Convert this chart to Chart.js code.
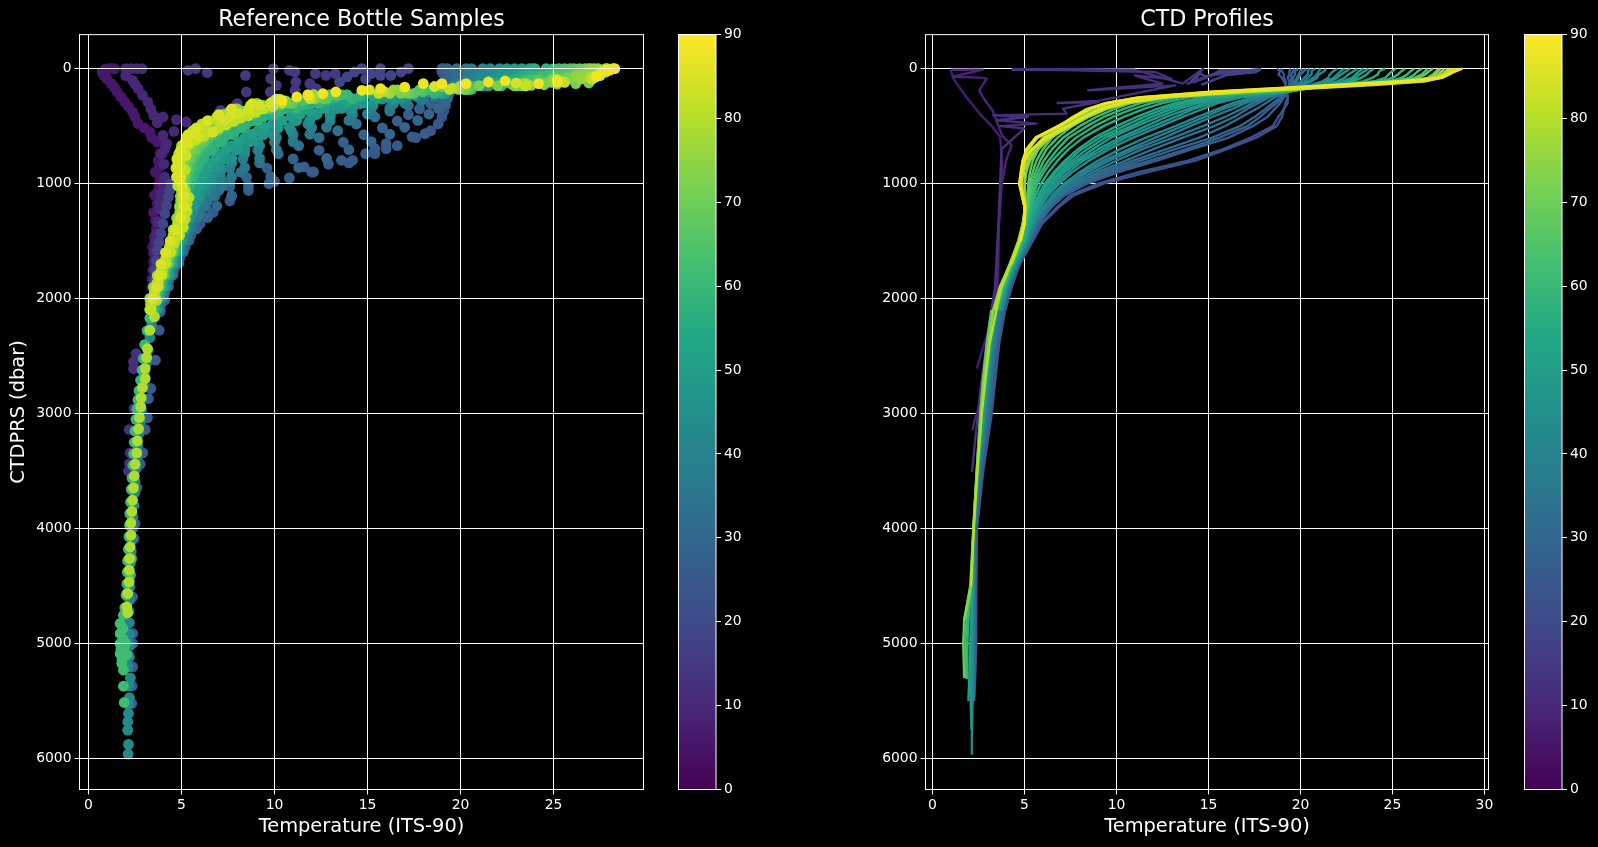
<!DOCTYPE html>
<html>
<head>
<meta charset="utf-8">
<title>Bottle and CTD temperature profiles</title>
<script src="https://cdn.jsdelivr.net/npm/chart.js@4/dist/chart.umd.min.js"></script>
<style>
	html, body { margin: 0; background: #000; width: 1598px; height: 847px; overflow: hidden; }
	canvas { position: absolute; top: 0; }
</style>
</head>
<body>
<canvas id="bottle-chart" width="723" height="847" style="left:0"></canvas>
<canvas id="ctd-chart" width="714" height="847" style="left:850px"></canvas>
<canvas id="bottle-bar" width="90" height="847" style="left:669px"></canvas>
<canvas id="ctd-bar" width="82" height="847" style="left:1515px"></canvas>
<script>
// axis ticks
var bottleTempTicks = [0, 5, 10, 15, 20, 25];
var ctdTempTicks = [0, 5, 10, 15, 20, 25, 30];
var pressureTicks = [0, 1000, 2000, 3000, 4000, 5000, 6000];
var latitudeTicks = [0, 10, 20, 30, 40, 50, 60, 70, 80, 90];

// colour scale stops, 0 to 90
var viridisStops = ["#440154", "#482475", "#414487", "#355f8d", "#2a788e", "#21918c", "#22a884", "#44bf70", "#7ad151", "#bddf26", "#fde725"];

/* ---- bottle samples: three sets of sampling depths ---- */
var levelsA = [0, 25, 50, 80, 110, 140, 170, 200, 240, 280, 320, 370, 420, 480, 540, 600, 670, 740, 820, 900, 980, 1060, 1150, 1250, 1350, 1450, 1550, 1650, 1750, 1850, 1950, 2050];
var levelsB = [0, 15, 40, 65, 95, 125, 155, 185, 225, 265, 305, 350, 400, 455, 515, 575, 640, 710, 785, 865, 945, 1025, 1110, 1200, 1300, 1400, 1500, 1600, 1700, 1800, 1900, 2000];
var levelsC = [0, 30, 60, 90, 120, 150, 180, 215, 260, 300, 345, 395, 450, 510, 570, 635, 705, 780, 860, 940, 1020, 1105, 1195, 1295, 1395, 1495, 1595, 1695, 1795, 1895, 1995, 2095];

var bottle01 = [19.0,19.0,19.1,19.2,19.2,19.3,19.3,19.3,19.3,19.2,19.2,19.1,19.0,18.8,18.4,17.6,16.6,15.4,14.0,12.0,10.0,8.6,7.6,6.7,6.0,5.5,5.2,4.9,4.6,4.3,4.1,3.9];
var bottle02 = [19.1,19.2,19.2,19.3,19.4,19.4,19.4,19.3,19.1,18.9,18.4,17.8,17.2,16.6,15.8,14.8,13.7,12.4,11.0,9.6,8.5,7.6,6.8,6.3,5.8,5.4,5.1,4.8,4.5,4.25,4.05,3.85];
var bottle03 = [19.3,19.4,19.4,19.4,19.4,19.5,19.4,19.4,19.3,19.1,18.8,18.3,17.7,17.0,16.2,15.2,14.0,12.8,11.3,9.8,8.6,7.7,6.9,6.4,5.8,5.4,5.1,4.85,4.55,4.3,4.05,3.85];
var bottle04 = [19.8,19.9,19.9,19.8,19.8,19.7,19.5,19.2,18.6,17.9,17.2,16.2,15.4,14.4,13.4,12.4,11.3,10.2,9.2,8.2,7.6,7.0,6.4,6.0,5.6,5.3,5.0,4.8,4.5,4.25,4.0,3.8];
var bottle05 = [20.3,20.3,20.2,20.2,20.0,19.8,19.5,19.0,18.0,17.0,16.2,15.0,14.0,12.8,11.9,11.0,10.1,9.2,8.4,7.7,7.2,6.7,6.2,5.85,5.5,5.2,4.95,4.7,4.45,4.2,4.0,3.75];
var bottle06 = [20.6,20.6,20.5,20.5,20.3,20.1,19.6,19.0,18.1,17.1,16.4,15.2,14.2,13.0,12.0,11.0,10.0,9.1,8.3,7.6,7.1,6.6,6.1,5.8,5.45,5.2,4.95,4.7,4.45,4.2,4.0,3.75];
var bottle07 = [21.2,21.1,21.2,21.0,20.8,20.4,19.9,19.2,17.6,16.3,15.3,14.1,13.0,11.8,10.9,10.1,9.2,8.4,7.7,7.1,6.7,6.3,5.9,5.6,5.35,5.1,4.9,4.65,4.4,4.15,3.95,3.7];
var bottle08 = [21.6,21.6,21.5,21.4,21.2,20.7,20.0,19.1,17.2,15.8,14.6,13.3,12.2,11.1,10.2,9.4,8.6,7.9,7.3,6.8,6.4,6.1,5.8,5.5,5.3,5.05,4.85,4.6,4.35,4.1,3.9,3.7];
var bottle09 = [22.1,22.1,22.0,21.8,21.5,20.9,20.2,19.2,16.8,15.3,14.2,13.0,11.9,10.8,9.9,9.1,8.4,7.7,7.1,6.6,6.3,6.0,5.7,5.5,5.25,5.0,4.85,4.6,4.35,4.1,3.9,3.7];
var bottle10 = [22.5,22.4,22.4,22.2,21.8,21.2,20.3,19.1,16.4,14.8,13.6,12.3,11.2,10.2,9.4,8.7,8.0,7.3,6.8,6.4,6.1,5.85,5.6,5.4,5.2,5.0,4.8,4.55,4.3,4.05,3.85,3.65];
var bottle11 = [22.9,22.9,22.8,22.5,22.0,21.3,20.4,19.1,16.0,14.4,13.2,11.9,10.9,9.9,9.1,8.4,7.7,7.1,6.6,6.2,6.0,5.75,5.5,5.35,5.15,4.95,4.8,4.55,4.3,4.05,3.85,3.65];
var bottle12 = [23.3,23.2,23.2,22.9,22.3,21.5,20.5,19.0,15.5,13.9,12.7,11.4,10.4,9.5,8.8,8.1,7.4,6.85,6.4,6.05,5.85,5.65,5.4,5.3,5.1,4.9,4.75,4.5,4.25,4.0,3.8,3.6];
var bottle13 = [23.7,23.6,23.5,23.2,22.6,21.7,20.6,19.0,15.2,13.5,12.3,11.0,10.0,9.1,8.4,7.8,7.2,6.6,6.2,5.9,5.7,5.5,5.3,5.2,5.05,4.9,4.75,4.5,4.25,4.0,3.8,3.6];
var bottle14 = [23.9,23.8,23.7,23.4,22.9,21.9,20.6,18.9,14.9,13.1,11.9,10.6,9.7,8.8,8.1,7.5,7.0,6.45,6.05,5.8,5.6,5.4,5.25,5.15,5.0,4.85,4.7,4.45,4.2,3.95,3.75,3.55];
var bottle15 = [24.0,24.0,23.9,23.6,23.1,22.1,20.6,18.8,14.6,12.8,11.6,10.3,9.4,8.5,7.9,7.3,6.8,6.3,5.95,5.7,5.5,5.35,5.2,5.1,5.0,4.85,4.7,4.45,4.2,3.95,3.75,3.55];
var bottle16 = [24.6,24.5,24.3,24.0,23.3,22.2,20.6,18.6,14.2,12.4,11.2,10.0,9.1,8.2,7.6,7.1,6.6,6.15,5.8,5.6,5.4,5.3,5.15,5.05,4.95,4.8,4.65,4.4,4.15,3.9,3.7,3.5];
var bottle17 = [25.0,25.0,24.8,24.3,23.5,22.4,20.6,18.4,13.9,12.1,10.9,9.7,8.9,8.0,7.4,6.9,6.4,6.0,5.7,5.55,5.35,5.25,5.1,5.05,4.95,4.8,4.65,4.4,4.15,3.9,3.7,3.5];
var bottle18 = [25.3,25.3,25.1,24.6,23.8,22.6,20.5,18.2,13.6,11.8,10.6,9.4,8.6,7.7,7.2,6.7,6.2,5.85,5.6,5.45,5.3,5.2,5.1,5.0,4.9,4.75,4.6,4.35,4.1,3.85,3.65,3.45];
var bottle19 = [25.6,25.6,25.4,24.9,24.0,22.8,20.5,18.0,13.3,11.5,10.3,9.1,8.3,7.5,7.0,6.5,6.05,5.75,5.5,5.35,5.25,5.15,5.05,5.0,4.9,4.75,4.6,4.35,4.1,3.85,3.65,3.45];
var bottle20 = [25.9,25.8,25.6,25.1,24.2,22.9,20.4,17.8,13.0,11.2,10.0,8.9,8.1,7.3,6.8,6.3,5.9,5.6,5.4,5.25,5.15,5.1,5.0,4.95,4.85,4.7,4.55,4.3,4.05,3.8,3.6,3.4];
var bottle21 = [26.1,26.1,25.9,25.3,24.4,23.0,20.4,17.5,12.8,11.0,9.8,8.7,7.9,7.1,6.6,6.2,5.8,5.5,5.3,5.2,5.1,5.05,5.0,4.95,4.85,4.7,4.55,4.3,4.05,3.8,3.6,3.4];
var bottle22 = [26.4,26.3,26.1,25.5,24.6,23.1,20.3,17.2,12.6,10.8,9.6,8.5,7.7,7.0,6.4,6.0,5.65,5.4,5.2,5.15,5.05,5.0,4.95,4.9,4.8,4.65,4.5,4.25,4.0,3.75,3.55,3.35];
var bottle23 = [26.7,26.6,26.4,25.8,24.8,23.3,20.3,17.0,12.4,10.6,9.4,8.3,7.6,6.8,6.3,5.9,5.55,5.3,5.15,5.1,5.05,5.0,4.95,4.9,4.8,4.65,4.5,4.25,4.0,3.75,3.55,3.35];
var bottle24 = [26.9,26.8,26.6,26.0,24.9,23.3,20.2,16.8,12.2,10.4,9.2,8.1,7.4,6.6,6.1,5.7,5.4,5.2,5.05,5.05,5.0,5.0,4.95,4.9,4.75,4.6,4.45,4.2,3.95,3.7,3.5,3.3];
var bottle25 = [27.0,27.0,26.7,26.2,25.0,23.4,20.1,16.6,12.1,10.3,9.1,8.0,7.3,6.5,6.0,5.6,5.3,5.1,5.0,5.0,5.0,5.0,4.95,4.9,4.75,4.6,4.45,4.2,3.95,3.7,3.5,3.3];
var bottle26 = [27.2,27.1,26.9,26.3,25.1,23.5,20.0,16.4,12.1,10.2,9.0,7.9,7.2,6.4,5.9,5.5,5.2,5.05,4.95,4.95,4.95,5.0,4.95,4.9,4.75,4.55,4.4,4.15,3.9,3.7,3.5,3.3];
var bottle27 = [27.4,27.4,27.1,26.5,25.2,23.5,19.9,16.2,12.0,10.1,8.9,7.8,7.1,6.3,5.8,5.4,5.15,5.0,4.9,4.9,4.95,5.0,5.0,4.95,4.8,4.55,4.4,4.15,3.9,3.7,3.5,3.3];
var bottle28 = [27.8,27.7,27.4,27.0,25.5,23.6,19.6,15.9,11.9,10.0,8.7,7.6,6.9,6.1,5.6,5.25,5.0,4.85,4.8,4.85,4.95,5.05,5.05,5.0,4.8,4.55,4.35,4.15,3.95,3.75,3.55,3.35];
var bottle29 = [27.9,27.8,27.5,27.1,25.6,23.5,19.4,15.6,11.9,10.0,8.8,7.7,7.0,6.2,5.7,5.3,5.05,4.9,4.8,4.85,5.0,5.1,5.1,5.0,4.85,4.6,4.4,4.15,3.95,3.75,3.55,3.35];
var bottle30 = [28.2,28.0,27.6,27.3,25.2,23.0,18.6,15.1,11.8,10.1,8.8,7.7,7.0,6.4,5.8,5.35,5.2,4.95,4.75,4.7,4.95,5.05,5.15,5.15,4.95,4.65,4.4,4.15,3.9,3.8,3.65,3.45];
// colour value, temperatures, sampling depths
var bottleStations = [
	[24, bottle01, levelsA], [27, bottle02, levelsB], [29, bottle03, levelsC], [33, bottle04, levelsA], [36, bottle05, levelsC],
	[38, bottle06, levelsB], [41, bottle07, levelsA], [43, bottle08, levelsB], [45, bottle09, levelsC], [47, bottle10, levelsC],
	[49, bottle11, levelsA], [51, bottle12, levelsC], [53, bottle13, levelsB], [55, bottle14, levelsB], [57, bottle15, levelsA],
	[58, bottle16, levelsC], [60, bottle17, levelsB], [62, bottle18, levelsB], [64, bottle19, levelsA], [66, bottle20, levelsB],
	[67, bottle21, levelsC], [69, bottle22, levelsC], [71, bottle23, levelsA], [72, bottle24, levelsC], [74, bottle25, levelsB],
	[75, bottle26, levelsB], [76, bottle27, levelsC], [80, bottle28, levelsA], [82, bottle29, levelsC], [85, bottle30, levelsB]
];

// stations and loose samples with their own pressures
var coldChainTemp = [0.72,0.9,1.1,1.25,1.4,0.82,1.23,1.54,1.95,2.37,2.67,3.29,3.7,3.85,3.81,3.85,3.77,3.7,3.6,3.54,3.5,3.46,3.4,1.0,1.4,1.75,2.15,2.5,3.0,3.4,3.6,3.55,3.5,3.45,3.75,3.8,3.75,3.65,3.55,3.5,3.42];
var coldChainPres = [30,5,0,0,0,58,130,203,290,377,478,551,638,739,855,957,1058,1174,1319,1464,1609,1754,1899,90,165,245,330,420,515,600,900,1100,1250,1550,800,1000,1120,1390,1530,1680,1830];
var coldSideTemp = [2.0,2.3,2.6,2.88,2.37,2.67,3.19,3.5,4.0,4.73,5.25,4.59,4.0,4.2,3.95,4.05,4.1,3.9,3.8,3.65,3.55,3.5,2.0,2.5,2.9,3.35,3.7,4.1,4.0,3.85,3.72,3.6];
var coldSidePres = [0,0,0,0,101,174,290,406,420,443,464,545,580,652,740,830,942,1087,1220,1435,1590,1745,60,135,230,350,470,700,1010,1160,1330,1510];
var midLatTemp = [5.35,5.76,6.38,7.1,8.0,8.44,8.48,9.77,9.94,9.8,10.1,10.8,11.1,11.15,11.1,12.2,11.9,12.24,12.76,13.27];
var midLatPres = [14,0,35,362,304,58,203,203,0,87,145,14,29,116,188,43,130,174,58,43];
var surfaceBlueTemp = [13.5,13.9,14.3,14.7,15.2,15.7,15.7,16.25,16.8,17.2,14.9,4.42,4.3,4.1,3.9,3.7,3.6,4.36,4.2,4.0,3.8,3.65,3.55];
var surfaceBluePres = [116,72,29,0,43,0,58,58,29,0,87,1000,1116,1261,1435,1580,1754,1060,1190,1350,1510,1670,1840];
var looseBlueTemp = [15.4,16.0,16.0,13.6,14.2,11.6,12.1,9.7,17.4,18.1,14.9,12.9,10.8];
var looseBluePres = [696,652,696,797,797,855,899,1000,594,565,740,830,950];
var topBandGreenTemp = [26.9,26.2,25.2,24.5,23.8,22.9,22.0,21.0,20.0,19.0];
var topBandGreenPres = [125,130,135,140,145,150,150,148,150,155];
var limeBandTemp = [10.4,9.9,9.4,9.0,8.6,8.2,7.8,7.4,7.0,6.6,6.2,5.8,5.4,5.2,5.0,5.0,5.2,4.9,4.8,5.2,5.4,5.3,5.3,5.2,5.1,4.9,4.6,4.4,4.1,3.9,3.7];
var limeBandPres = [300,330,350,380,410,430,460,490,520,550,590,620,660,700,780,860,880,950,1020,1060,1120,1180,1240,1310,1380,1450,1520,1600,1680,1760,1860];
var upperLimeTemp = [9.8,9.2,8.6,8.1,7.6,7.3,6.7,5.9,5.35,5.25,4.94,4.73];
var upperLimePres = [296,319,355,391,420,449,551,594,652,754,855,942];
var topBandTemp = [28.3,27.9,27.6,27.3,25.2,24.2,22.4,21.5,20.3,19,18,17,15.7,14.7,13.3,12.6,11.8,11.2,10.4];
var topBandPres = [0,10,29,70,116,130,107,116,130,130,130,160,174,188,203,218,232,246,275];

// deep samples
var deepPurpleTemp = [2.56,2.42,2.42,2.45,2.19,2.24,2.2,2.15];
var deepPurplePres = [2478,2550,2609,2957,3139,3342,3435,3501];
var deepBlueTemp = [4.1,3.85,3.8,3.6,3.35,3.22,3.17,3.05,2.92,2.78,2.6,2.5,2.45,2.33,2.37,2.38,2.38,2.38,2.35,2.33];
var deepBluePres = [2014,2115,2275,2536,2782,2870,3035,3139,3342,3440,3646,3956,4087,4261,4594,4913,5000,5203,5370,5522];
var deepTealTemp = [2.15,2.15,2.15,2.14,2.15,2.15,2.11,2.11,2.15,2.13,2.2,2.25,2.15];
var deepTealPres = [4913,5000,5100,5203,5370,5609,5681,5754,5878,5962,5470,5300,5530];
var deepTealMidTemp = [3.75,3.55,3.4,3.3,3.2,3.12,3.0,2.95,2.9,2.85,2.8,2.72,2.65,2.62,2.55,2.5,2.48,2.44,2.38,2.36,2.34,2.3,2.26,2.24,2.22,2.22,2.18,2.2,2.2,2.22,2.2];
var deepTealMidPres = [2020,2120,2230,2340,2450,2560,2660,2770,2870,2970,3070,3170,3280,3380,3480,3590,3690,3800,3900,4000,4100,4200,4300,4410,4510,4620,4720,4820,4920,5020,5120];
var deepGreenMidTemp = [3.45,3.3,3.15,3.02,2.95,2.88,2.8,2.72,2.66,2.6,2.55,2.5,2.46,2.42,2.38,2.34,2.3,2.26,2.22,2.2,2.18,2.14,2.1,2.08,2.06,2.02,1.95];
var deepGreenMidPres = [2050,2170,2280,2400,2520,2620,2710,2800,2880,2960,3050,3150,3250,3350,3450,3560,3660,3770,3870,3970,4070,4180,4280,4380,4480,4580,4690];
var deepGreenTemp = [2.3,2.25,2.06,1.88,1.7,1.7,1.7,1.7,1.79,1.88,1.88,1.92,2.0,2.05,1.85,1.85,1.9,1.8,1.75];
var deepGreenPres = [4261,4400,4565,4754,4826,4913,5000,5087,5174,5232,5371,5513,5000,5100,4870,4960,5060,5140,5050];
var deepLimeTemp = [3.67,3.55,3.3,3.17,3.13,3.05,3.05,2.9,2.83,2.81,2.74,2.69,2.63,2.6,2.51,2.46,2.42,2.37,2.33,2.28,2.28,2.24,2.2,2.19,2.19,2.11,2.06,2.11];
var deepLimePres = [2014,2159,2275,2435,2513,2609,2696,2774,2864,2942,3035,3133,3238,3342,3441,3542,3646,3754,3852,3951,4058,4159,4261,4362,4464,4565,4681,4733];

// grouped with the colour value of each set
var bottleLoose = [
	[6, coldChainTemp, coldChainPres], [10, coldSideTemp, coldSidePres], [14, midLatTemp, midLatPres],
	[12, deepPurpleTemp, deepPurplePres], [18, surfaceBlueTemp, surfaceBluePres], [25, deepBlueTemp, deepBluePres],
	[26, looseBlueTemp, looseBluePres], [42, deepTealTemp, deepTealPres], [40, deepTealMidTemp, deepTealMidPres],
	[60, deepGreenMidTemp, deepGreenMidPres], [62, deepGreenTemp, deepGreenPres], [72, topBandGreenTemp, topBandGreenPres],
	[79, deepLimeTemp, deepLimePres], [81, limeBandTemp, limeBandPres], [84, upperLimeTemp, upperLimePres], [88, topBandTemp, topBandPres]
];

/* ---- CTD casts: upper part on shared levels ---- */
var ctdLevels = [0, 20, 50, 80, 110, 140, 170, 200, 250, 300, 350, 420, 500, 600, 700, 800, 900, 1000, 1100, 1200, 1350, 1500, 1700, 1900, 2100];
var cast01 = [18.7,18.9,18.8,19.0,19.1,19.2,19.2,19.2,19.3,19.2,19.1,19.0,18.7,17.6,16.0,14.3,11.7,9.3,7.7,6.9,5.95,5.45,4.75,4.3,3.95];
var cast02 = [18.9,19.0,19.1,19.1,19.2,19.2,19.3,19.3,19.3,19.3,19.1,18.8,18.5,17.3,15.8,13.9,11.2,9.0,7.5,6.8,5.9,5.4,4.7,4.3,3.95];
var cast03 = [19.5,19.4,19.4,19.3,19.4,19.4,19.4,19.3,19.1,18.9,18.6,18.2,17.4,16.1,14.1,12.2,10.1,8.4,7.2,6.5,5.8,5.35,4.7,4.2,3.85];
var cast04 = [19.7,19.6,19.5,19.5,19.5,19.4,19.4,19.3,19.0,18.7,18.3,17.8,17.1,15.6,13.8,11.8,9.8,8.2,7.1,6.45,5.75,5.3,4.65,4.2,3.85];
var cast05 = [19.9,19.7,19.7,19.6,19.6,19.5,19.4,19.3,18.9,18.5,18.1,17.5,16.7,15.2,13.2,11.3,9.6,8.1,7.0,6.4,5.7,5.3,4.65,4.15,3.85];
var cast06 = [20.1,20.0,19.9,19.8,19.7,19.6,19.5,19.3,18.6,18.1,17.6,16.8,15.9,14.5,12.7,10.9,9.3,7.9,6.95,6.35,5.7,5.25,4.6,4.15,3.8];
var cast07 = [20.3,20.2,20.0,19.9,19.8,19.7,19.5,19.3,18.3,17.7,17.1,16.4,15.3,13.6,12.0,10.5,9.0,7.8,6.85,6.3,5.65,5.25,4.6,4.1,3.8];
var cast08 = [20.5,20.4,20.4,20.2,20.0,19.8,19.6,19.2,18.1,17.4,16.8,15.9,14.7,13.1,11.4,10.0,8.7,7.6,6.75,6.2,5.6,5.2,4.6,4.1,3.8];
var cast09 = [20.8,20.6,20.6,20.4,20.2,19.9,19.6,19.2,17.9,17.0,16.3,15.2,14.0,12.6,11.0,9.6,8.4,7.4,6.65,6.15,5.55,5.2,4.6,4.1,3.75];
var cast10 = [21.1,21.0,20.9,20.7,20.4,20.1,19.7,19.3,17.7,16.7,15.8,14.8,13.6,12.1,10.7,9.3,8.2,7.3,6.6,6.1,5.5,5.15,4.55,4.05,3.75];
var cast11 = [21.4,21.3,21.0,20.9,20.6,20.2,19.8,19.3,17.4,16.3,15.5,14.4,13.2,11.6,10.2,9.0,8.0,7.15,6.5,6.05,5.5,5.15,4.55,4.05,3.75];
var cast12 = [22.0,21.8,21.6,21.5,21.2,20.6,20.0,19.4,16.8,15.5,14.7,13.6,12.4,10.9,9.6,8.5,7.6,6.9,6.3,5.9,5.45,5.1,4.5,4.05,3.7];
var cast13 = [22.4,22.2,22.0,21.8,21.4,20.8,20.1,19.4,16.5,15.2,14.2,13.2,12.0,10.5,9.3,8.2,7.4,6.75,6.2,5.85,5.4,5.05,4.5,4.0,3.65];
var cast14 = [22.7,22.5,22.2,22.0,21.6,21.0,20.2,19.4,16.2,14.8,13.9,12.7,11.6,10.2,9.0,8.0,7.2,6.6,6.1,5.75,5.35,5.05,4.5,4.0,3.65];
var cast15 = [23.1,22.9,22.6,22.4,22.0,21.3,20.3,19.4,15.8,14.4,13.4,12.3,11.1,9.7,8.7,7.8,7.05,6.45,6.0,5.7,5.3,5.0,4.45,3.95,3.6];
var cast16 = [23.4,23.2,23.0,22.8,22.3,21.5,20.4,19.4,15.4,14.0,13.0,11.9,10.8,9.4,8.4,7.6,6.9,6.3,5.9,5.65,5.3,5.0,4.45,3.95,3.6];
var cast17 = [23.7,23.5,23.2,23.0,22.6,21.7,20.5,19.3,15.0,13.6,12.6,11.5,10.4,9.1,8.1,7.4,6.7,6.2,5.8,5.6,5.25,5.0,4.4,3.9,3.6];
var cast18 = [24.0,23.8,23.6,23.3,22.8,21.8,20.5,19.2,14.7,13.2,12.2,11.1,10.0,8.8,7.9,7.2,6.6,6.1,5.75,5.55,5.25,5.0,4.4,3.9,3.6];
var cast19 = [24.6,24.3,24.2,23.9,23.4,22.1,20.5,19.0,14.0,12.5,11.5,10.4,9.3,8.2,7.4,6.8,6.3,5.9,5.6,5.45,5.2,4.95,4.4,3.9,3.55];
var cast20 = [25.2,25.0,24.8,24.6,24.0,22.3,20.4,18.7,13.4,11.9,10.9,9.8,8.8,7.8,7.1,6.5,6.05,5.7,5.5,5.35,5.1,4.9,4.35,3.85,3.5];
var cast21 = [25.7,25.5,25.3,25.0,24.4,22.5,20.3,18.4,12.9,11.3,10.4,9.3,8.4,7.4,6.8,6.3,5.9,5.6,5.4,5.3,5.05,4.85,4.35,3.85,3.5];
var cast22 = [26.2,26.0,25.8,25.5,24.8,22.7,20.2,18.0,12.5,10.8,9.9,8.9,8.0,7.1,6.5,6.05,5.75,5.5,5.35,5.25,5.05,4.8,4.3,3.8,3.45];
var cast23 = [26.6,26.4,26.2,25.9,25.1,22.8,20.1,17.7,12.1,10.4,9.5,8.5,7.6,6.8,6.2,5.85,5.6,5.4,5.3,5.2,5.0,4.8,4.3,3.8,3.4];
var cast24 = [26.9,26.8,26.6,26.2,25.3,22.9,20.0,17.3,11.8,9.9,9.1,8.1,7.3,6.5,6.0,5.65,5.45,5.3,5.25,5.15,4.95,4.75,4.25,3.75,3.4];
var cast25 = [27.2,27.0,26.8,26.4,25.5,23.0,19.9,17.0,11.6,9.7,8.8,7.9,7.1,6.2,5.75,5.45,5.3,5.2,5.2,5.15,4.95,4.75,4.25,3.7,3.35];
var cast26 = [27.5,27.4,27.2,26.9,25.8,23.2,19.8,16.6,11.9,10.0,8.9,8.0,7.2,6.0,5.5,5.2,5.1,5.0,5.05,5.05,4.9,4.7,4.2,3.7,3.3];
var cast27 = [27.6,27.5,27.3,27.0,26.0,23.4,20.0,16.9,12.3,10.3,9.1,8.1,7.4,6.4,5.75,5.3,5.1,5.0,5.05,5.05,4.9,4.65,4.2,3.65,3.3];
var cast28 = [28.0,27.9,27.7,27.3,26.4,23.6,20.0,16.6,12.4,10.3,9.2,8.3,7.5,6.4,5.6,5.2,4.95,4.85,4.9,5.0,4.95,4.7,4.2,3.7,3.35];
var cast29 = [27.8,27.7,27.5,27.2,26.2,23.0,19.4,15.9,11.4,9.5,8.5,7.7,6.9,5.7,5.25,5.0,4.9,4.85,4.95,5.05,4.95,4.7,4.25,3.7,3.35];
var cast30 = [28.1,28.0,27.8,27.4,26.0,22.4,18.9,15.3,11.2,9.4,8.4,7.6,6.9,5.6,5.15,4.95,4.85,4.8,4.9,5.0,5.0,4.75,4.25,3.75,3.47];
// the warmest casts stop above 2000 dbar
var cast31 = [28.3,28.1,27.9,27.6,26.8,24.2,20.8,17.4,12.8,10.6,9.4,8.4,7.5,6.3,5.4,5.05,4.9,4.8,4.9,5.0,5.0,4.75,4.3];
var cast32 = [28.4,28.2,28.0,27.6,26.3,23.0,19.6,16.0,11.6,9.6,8.6,7.8,6.95,5.7,5.15,4.9,4.8,4.7,4.85,5.0,5.0,4.75];
var cast33 = [28.6,28.4,28.1,27.7,26.6,23.6,20.2,16.8,12.4,10.2,9.1,8.2,7.3,6.1,5.4,5.0,4.85,4.75,4.85,5.0,4.95,4.75];
var cast34 = [28.8,28.5,28.0,27.5,25.4,22.0,18.6,15.1,11.2,9.4,8.5,7.7,6.8,5.6,5.1,4.9,4.8,4.75,4.9,5.05,5.0,4.8];
var ctdStations = [
	[22, cast01], [23, cast02], [26, cast03], [27, cast04], [29, cast05], [31, cast06], [33, cast07], [35, cast08], [37, cast09], [39, cast10],
	[41, cast11], [44, cast12], [45, cast13], [46, cast14], [48, cast15], [50, cast16], [51, cast17], [53, cast18], [55, cast19], [57, cast20],
	[59, cast21], [61, cast22], [63, cast23], [65, cast24], [67, cast25], [70, cast26], [73, cast27], [76, cast28], [78, cast29], [80, cast30],
	[82, cast31], [84, cast32], [86, cast33], [88, cast34]
];

// lower part of the casts
var ctdDeepLevels = [2100, 2400, 2700, 3000, 3500, 4000, 4500, 4800, 5000, 5300, 5500, 5750, 5960];
var deep22 = [3.95,3.62,3.42,3.22,2.76,2.42,2.38,2.38,2.37,2.32,2.26];
var deep24 = [3.9,3.58,3.38,3.18,2.72,2.4,2.36,2.36,2.35,2.3,2.25];
var deep27 = [3.85,3.52,3.31,3.11,2.67,2.36,2.33,2.33,2.32,2.28,2.24];
var deep30 = [3.8,3.45,3.25,3.05,2.62,2.33,2.3,2.3,2.3,2.27,2.22];
var deep33 = [3.72,3.4,3.2,3.0,2.58,2.31,2.28,2.28,2.27,2.24,2.2];
var deep36 = [3.65,3.35,3.15,2.95,2.55,2.3,2.27,2.27,2.25,2.22,2.2];
var deep42 = [3.55,3.25,3.05,2.85,2.5,2.27,2.22,2.2,2.2,2.18,2.16,2.14,2.14];
var deep46 = [3.5,3.2,3.0,2.8,2.48,2.26,2.2,2.14,2.12,2.1,2.08,2.12];
var deep50 = [3.45,3.15,2.95,2.75,2.47,2.25,2.18,2.1,2.05,2.0,1.95];
var deep58 = [3.3,3.02,2.82,2.65,2.42,2.23,2.12,1.95,1.9,1.88];
var deep62 = [3.2,2.95,2.75,2.6,2.4,2.22,2.1,1.85,1.78,1.82];
var deep68 = [3.22,2.95,2.75,2.6,2.4,2.22,2.05,1.72,1.67,1.72];
var deep74 = [3.3,3.05,2.82,2.65,2.42,2.23,2.08,1.72];
var deep80 = [3.47,3.1,2.88,2.68,2.44,2.24,2.1];
var ctdDeep = [[22, deep22], [24, deep24], [27, deep27], [30, deep30], [33, deep33], [36, deep36], [42, deep42], [46, deep46], [50, deep50], [58, deep58], [62, deep62], [68, deep68], [74, deep74], [80, deep80]];

// polar casts and surface spikes
var polarATemp = [0.98,1.18,1.9,2.64,3.26,3.68,3.78,3.74,3.6,3.58,3.5,3.3,2.99,2.7,2.41];
var polarAPres = [14,100,260,405,507,594,797,1029,1377,1754,1985,2150,2304,2450,2609];
var polarBTemp = [1.0,2.74,1.1,2.64,2.95,2.54,2.85,3.26,3.47,3.78,4.3,4.0,3.74,3.6,3.5,3.2,2.9,2.6,2.3,2.17];
var polarBPres = [9,9,70,78,87,188,275,362,449,580,667,797,1029,1400,1800,2200,2600,2913,3050,3145];
var polarCTemp = [4.3,7.0,12.1,13.0,11.0,12.5,8.46,10.2,13.2,9.0,6.8,9.0,7.1,7.3,3.3,5.2,3.47,5.65,3.7,5.0,3.75,3.6,3.4,3.0,2.6,2.32,2.15];
var polarCPres = [9,12,29,90,60,130,188,174,145,280,299,290,348,391,406,420,449,478,500,520,700,1300,1900,2300,2800,3232,3507];
var spikeATemp = [4.3,8.0,11.0,13.6,14.7,14.2,15.2,15.6,17.8,17.0,15.0,13.8];
var spikeAPres = [5,5,10,130,0,120,58,14,14,25,60,135];
var spikeBTemp = [14.0,14.5,14.9,15.6,16.4,17.8,17.6,16.0,14.6];
var spikeBPres = [120,40,70,30,25,5,30,55,140];
var ctdSpikes = [[7, polarATemp, polarAPres], [9, polarBTemp, polarBPres], [12, polarCTemp, polarCPres], [13, spikeATemp, spikeAPres], [18, spikeBTemp, spikeBPres]];

function viridis(value) {
	var pos = value / 90 * (viridisStops.length - 1);
	var i = Math.min(Math.floor(pos), viridisStops.length - 2);
	var f = pos - i;
	var rgb = [1, 3, 5].map(function(k) {
		var a = parseInt(viridisStops[i].substr(k, 2), 16);
		var b = parseInt(viridisStops[i + 1].substr(k, 2), 16);
		return Math.round(a + (b - a) * f);
	});
	return "rgb(" + rgb.join(",") + ")";
}

function zipPoints(temps, pressures) {
	return temps.map(function(t, i) { return { x: t, y: pressures[i] }; });
}

// spines on all four sides
var framePlugin = {
	id: "frame",
	afterDraw: function(chart) {
		var a = chart.chartArea, c = chart.ctx;
		c.save();
		c.strokeStyle = "#fff";
		c.lineWidth = 1;
		c.strokeRect(a.left, a.top, a.right - a.left, a.bottom - a.top);
		c.restore();
	}
};

function fixedTicks(list) {
	return function(scale) { scale.ticks = list.map(function(v) { return { value: v }; }); };
}

function plainNumber(v) { return String(v); }

function profileOptions(o) {
	return {
		responsive: false,
		animation: false,
		plugins: {
			legend: { display: false },
			tooltip: { enabled: false },
			title: {
				display: true,
				text: o.title,
				color: "#fff",
				font: { family: "DejaVu Sans", size: 22.2, weight: "normal" },
				padding: { top: 7, bottom: 1 }
			}
		},
		scales: {
			x: {
				type: "linear",
				min: o.xMin,
				max: o.xMax,
				afterBuildTicks: fixedTicks(o.xTicks),
				afterFit: function(s) { s.height = 57.5; },
				grid: { color: "#fff", lineWidth: 1, tickLength: 5, z: o.gridZ },
				border: { display: false },
				ticks: { color: "#fff", maxRotation: 0, padding: 3, callback: plainNumber, font: { family: "DejaVu Sans", size: 13.9 } },
				title: { display: true, text: "Temperature (ITS-90)", color: "#fff", font: { family: "DejaVu Sans", size: 19.4 }, padding: { top: 0, bottom: 8 } }
			},
			y: {
				type: "linear",
				reverse: true,
				min: -296,
				max: 6270,
				afterBuildTicks: fixedTicks(pressureTicks),
				afterFit: function(s) { s.width = o.side; },
				grid: { color: "#fff", lineWidth: 1, tickLength: 5, z: o.gridZ },
				border: { display: false },
				ticks: { color: "#fff", padding: 3, callback: plainNumber, font: { family: "DejaVu Sans", size: 13.9 } },
				title: { display: o.yTitle, text: "CTDPRS (dbar)", color: "#fff", font: { family: "DejaVu Sans", size: 19.4 }, padding: { top: 7, bottom: 0 } }
			},
			// empty strip on the right so the title stays centred over the plot
			rightPad: {
				type: "linear",
				position: "right",
				min: 0,
				max: 1,
				afterBuildTicks: fixedTicks([]),
				afterFit: function(s) { s.width = o.side; },
				grid: { display: false },
				border: { display: false },
				ticks: { display: false }
			}
		}
	};
}

// bottle samples: the dataset listed first is painted last
var bottleSets = [];
bottleStations.forEach(function(s) { bottleSets.push({ value: s[0], data: zipPoints(s[1], s[2]) }); });
bottleLoose.forEach(function(s) { bottleSets.push({ value: s[0], data: zipPoints(s[1], s[2]) }); });
bottleSets.sort(function(a, b) { return b.value - a.value; });

new Chart(document.getElementById("bottle-chart"), {
	type: "scatter",
	data: {
		datasets: bottleSets.map(function(s) {
			return { data: s.data, pointRadius: 5.4, pointBorderWidth: 0, pointBackgroundColor: viridis(s.value), showLine: false };
		})
	},
	options: profileOptions({ title: "Reference Bottle Samples", side: 79.5, xMin: -0.484, xMax: 29.84, xTicks: bottleTempTicks, gridZ: 1, yTitle: true }),
	plugins: [framePlugin]
});

// CTD casts
var ctdSets = [];
ctdStations.forEach(function(s) { ctdSets.push({ value: s[0], data: zipPoints(s[1], ctdLevels) }); });
ctdDeep.forEach(function(s) { ctdSets.push({ value: s[0], data: zipPoints(s[1], ctdDeepLevels) }); });
ctdSpikes.forEach(function(s) { ctdSets.push({ value: s[0], data: zipPoints(s[1], s[2]) }); });
ctdSets.sort(function(a, b) { return b.value - a.value; });

new Chart(document.getElementById("ctd-chart"), {
	type: "scatter",
	data: {
		datasets: ctdSets.map(function(s) {
			return { data: s.data, showLine: true, pointRadius: 0, borderWidth: 2.4, borderColor: viridis(s.value), borderJoinStyle: "round" };
		})
	},
	options: profileOptions({ title: "CTD Profiles", side: 75.5, xMin: -0.38, xMax: 30.22, xTicks: ctdTempTicks, gridZ: -1, yTitle: false }),
	plugins: [framePlugin]
});

// colour bars: a single floating bar filled with the scale
function colorBar(id) {
	new Chart(document.getElementById(id), {
		type: "bar",
		data: {
			labels: ["scale"],
			datasets: [{
				data: [[latitudeTicks[0], latitudeTicks[latitudeTicks.length - 1]]],
				barPercentage: 1,
				categoryPercentage: 1,
				backgroundColor: function(ctx) {
					var a = ctx.chart.chartArea;
					if (!a) return "#000";
					var g = ctx.chart.ctx.createLinearGradient(0, a.bottom, 0, a.top);
					viridisStops.forEach(function(c, i) { g.addColorStop(i / (viridisStops.length - 1), c); });
					return g;
				}
			}]
		},
		options: {
			responsive: false,
			animation: false,
			layout: { padding: { left: 9.5, top: 34.5, bottom: 57.5 } },
			plugins: { legend: { display: false }, tooltip: { enabled: false } },
			scales: {
				x: { display: false },
				y: {
					position: "right",
					min: 0,
					max: 90,
					afterBuildTicks: fixedTicks(latitudeTicks),
					afterFit: function(s) { s.width = document.getElementById(id).width - 47; },
					grid: { drawOnChartArea: false, color: "#fff", tickLength: 5 },
					border: { display: false },
					ticks: { color: "#fff", padding: 3, font: { family: "DejaVu Sans", size: 13.9 } }
				}
			}
		},
		plugins: [framePlugin]
	});
}
colorBar("bottle-bar");
colorBar("ctd-bar");
</script>
</body>
</html>
